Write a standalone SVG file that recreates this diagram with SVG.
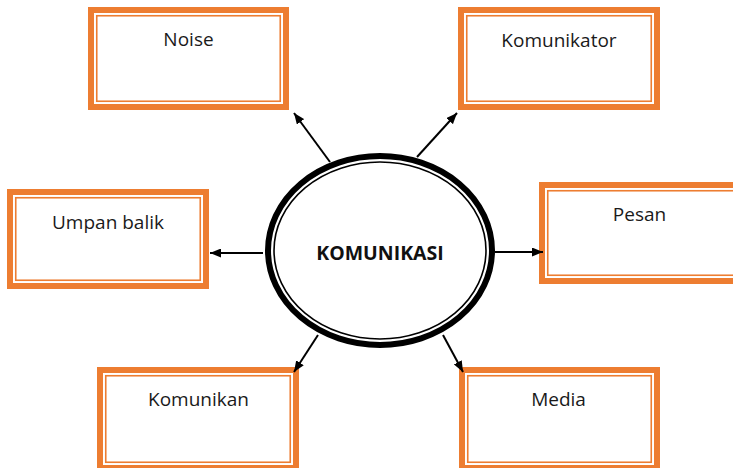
<svg xmlns="http://www.w3.org/2000/svg" width="733" height="468" viewBox="0 0 733 468">
  <style>
    .band { fill: #ffffff; stroke: #ED7D31; stroke-width: 6; }
    .rule { fill: none; stroke: #ED7D31; stroke-width: 1.6; }
    .label { font-family: "Open Sans", "Liberation Sans", sans-serif; font-size: 19px; fill: #1a1a1a; text-anchor: middle; }
    .hub { font-family: "Open Sans", "Liberation Sans", sans-serif; font-size: 19.5px; font-weight: 700; fill: #111111; text-anchor: middle; }
    .link { stroke: #000000; stroke-width: 2; fill: none; marker-end: url(#tip); }
  </style>
  <defs>
    <marker id="tip" markerUnits="userSpaceOnUse" markerWidth="11" markerHeight="9" refX="11" refY="4.5" orient="auto">
      <path d="M0,0 L11,4.5 L0,9 z" fill="#000000"/>
    </marker>
  </defs>
  <rect width="733" height="468" fill="#ffffff"/>

  <!-- central concept -->
  <g id="komunikasi">
    <ellipse cx="380" cy="250.5" rx="112" ry="94.5" fill="#ffffff" stroke="#000000" stroke-width="6"/>
    <ellipse cx="380" cy="250.5" rx="106" ry="88.5" fill="none" stroke="#000000" stroke-width="1.6"/>
    <text class="hub" x="380" y="260">KOMUNIKASI</text>
  </g>

  <!-- surrounding elements: thick outer band + thin inner rule -->
  <g id="noise">
    <rect class="band" x="91" y="10" width="195" height="97"/>
    <rect class="rule" x="96.75" y="15.75" width="183.5" height="85.5"/>
    <text class="label" x="188.5" y="46">Noise</text>
  </g>
  <g id="komunikator">
    <rect class="band" x="461" y="10" width="196" height="97"/>
    <rect class="rule" x="466.75" y="15.75" width="184.5" height="85.5"/>
    <text class="label" x="559" y="46.5">Komunikator</text>
  </g>
  <g id="umpan-balik">
    <rect class="band" x="10" y="192" width="196" height="94"/>
    <rect class="rule" x="15.75" y="197.75" width="184.5" height="82.5"/>
    <text class="label" x="108" y="229">Umpan balik</text>
  </g>
  <g id="pesan">
    <rect class="band" x="542" y="185" width="200" height="96"/>
    <rect class="rule" x="547.75" y="190.75" width="188.5" height="84.5"/>
    <text class="label" x="639.5" y="221">Pesan</text>
  </g>
  <g id="komunikan">
    <rect class="band" x="100" y="370" width="196" height="98"/>
    <rect class="rule" x="105.75" y="375.75" width="184.5" height="86.5"/>
    <text class="label" x="198.5" y="406">Komunikan</text>
  </g>
  <g id="media">
    <rect class="band" x="462" y="370" width="195" height="98"/>
    <rect class="rule" x="467.75" y="375.75" width="183.5" height="86.5"/>
    <text class="label" x="558.5" y="406">Media</text>
  </g>

  <!-- connectors from the centre outward -->
  <g id="connectors">
    <line class="link" x1="330" y1="162" x2="294" y2="113"/>
    <line class="link" x1="417" y1="157" x2="457" y2="113"/>
    <line class="link" x1="263" y1="253" x2="210" y2="253"/>
    <line class="link" x1="495" y1="252" x2="543" y2="252"/>
    <line class="link" x1="318" y1="335" x2="294" y2="372"/>
    <line class="link" x1="443" y1="335" x2="463" y2="372"/>
  </g>
</svg>
